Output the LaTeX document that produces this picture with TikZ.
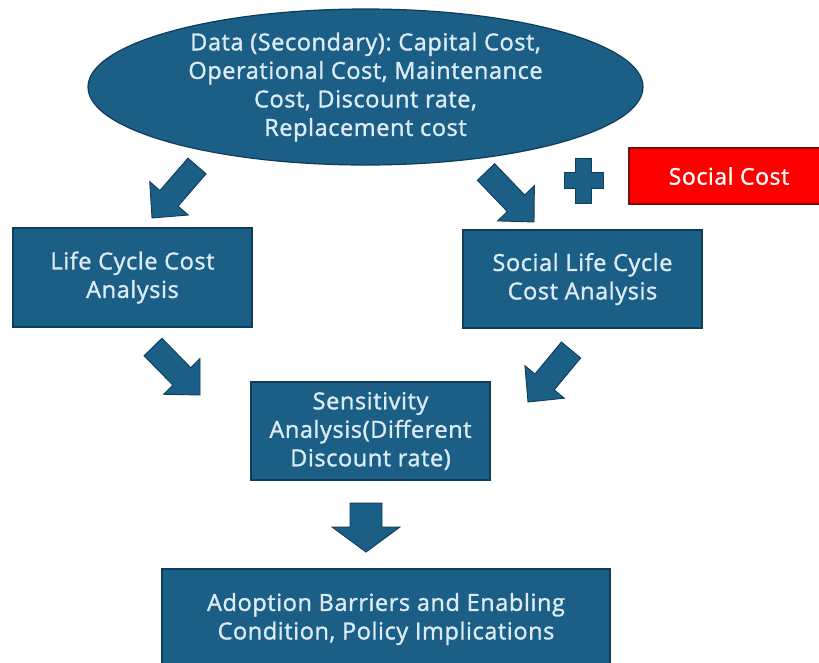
\documentclass[tikz,border=0pt]{standalone}
\usepackage{fontspec}
\setmainfont{Open Sans}[FakeBold=1.4, LetterSpace=2.5]
\usetikzlibrary{calc,shapes.geometric}

\definecolor{nodeblue}{HTML}{1B5E86}
\definecolor{edgeblue}{HTML}{0F3D5A}
\definecolor{nodetext}{HTML}{DDEBF5}
\definecolor{costred}{HTML}{FF0000}
\definecolor{costedge}{HTML}{7A1010}

\tikzset{
  flowbox/.style={draw=edgeblue, line width=1.2pt, fill=nodeblue, text=nodetext,
    align=center, inner sep=0pt, font=\fontsize{23.5}{28.5}\selectfont\frenchspacing},
  blockarrowstyle/.style={fill=nodeblue, draw=edgeblue, line width=0.9pt, line join=miter},
}

% block arrow: #1 name, #2 tail centre, #3 tip, #4 shaft half width,
% #5 head half width, #6 head length
\newcommand{\blockarrow}[6]{%
  \coordinate (#1h) at ($(#3)!#6!(#2)$);
  \filldraw[blockarrowstyle]
    ($(#2)!#4!90:(#3)$) -- ($(#1h)!#4!90:(#3)$) -- ($(#1h)!#5!90:(#3)$) -- (#3)
    -- ($(#1h)!#5!-90:(#3)$) -- ($(#1h)!#4!-90:(#3)$) -- ($(#2)!#4!-90:(#3)$) -- cycle;}

\begin{document}
\begin{tikzpicture}[x=1pt, y=-1pt]
  \useasboundingbox (0,0) rectangle (819,662);
  \fill[white] (0,0) rectangle (819,662);

  % data source
  \node[flowbox, ellipse, minimum width=555, minimum height=156] (data) at (365.5,87)
    {Data (Secondary): Capital Cost,\\Operational Cost, Maintenance\\Cost, Discount rate,\\Replacement cost};

  % analysis boxes
  \node[flowbox, minimum width=239, minimum height=99] (lcca) at (132.5,277.5)
    {Life Cycle Cost\\Analysis};
  \node[flowbox, minimum width=239, minimum height=98] (slcca) at (582.5,279)
    {Social Life Cycle\\Cost Analysis};
  \node[flowbox, minimum width=239, minimum height=98] (sens) at (370.5,431)
    {Sensitivity\\Analysis(Different\\Discount rate)};
  \node[flowbox, minimum width=448, minimum height=100] (policy) at (386,619)
    {Adoption Barriers and Enabling\\Condition, Policy Implications};

  % social cost addition
  \node[draw=costedge, line width=1.2pt, fill=costred, text=white, inner sep=0pt,
        minimum width=200, minimum height=56, font=\fontsize{23}{24}\selectfont]
        (social) at (729,176) {Social Cost};
  \filldraw[blockarrowstyle] (575.5,158) -- (591.5,158) -- (591.5,172) -- (603,172)
    -- (603,188) -- (591.5,188) -- (591.5,203) -- (575.5,203) -- (575.5,188)
    -- (564,188) -- (564,172) -- (575.5,172) -- cycle;

  % flow arrows
  \coordinate (a1s) at (197,166);  \coordinate (a1t) at (152,218);
  \coordinate (a2s) at (486,172);  \coordinate (a2t) at (534,222);
  \coordinate (a3s) at (153,347);  \coordinate (a3t) at (200,395);
  \coordinate (a4s) at (571,350);  \coordinate (a4t) at (528,402);
  \coordinate (a5s) at (366,503);  \coordinate (a5t) at (366,552);
  \blockarrow{a1}{a1s}{a1t}{12pt}{25.5pt}{26pt}
  \blockarrow{a2}{a2s}{a2t}{12pt}{25.5pt}{26pt}
  \blockarrow{a3}{a3s}{a3t}{12.5pt}{25.5pt}{26pt}
  \blockarrow{a4}{a4s}{a4t}{12.5pt}{25.5pt}{26pt}
  \blockarrow{a5}{a5s}{a5t}{16pt}{34pt}{25pt}
\end{tikzpicture}
\end{document}
